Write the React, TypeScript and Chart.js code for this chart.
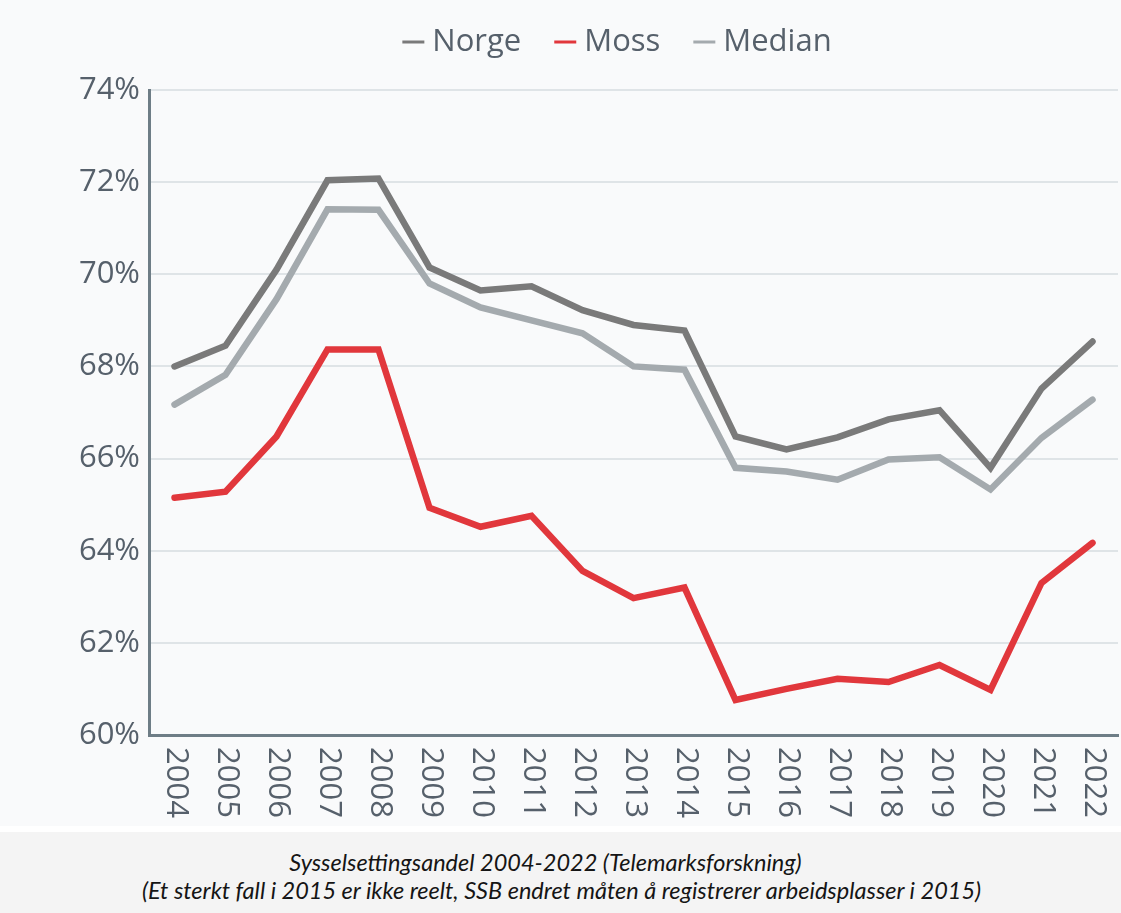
import React, { useEffect, useRef } from 'react';
import { Chart, registerables } from 'chart.js';

Chart.register(...registerables);

const years = ['2004', '2005', '2006', '2007', '2008', '2009', '2010', '2011', '2012', '2013', '2014', '2015', '2016', '2017', '2018', '2019', '2020', '2021', '2022'];
const norge = [68.0, 68.45, 70.1, 72.04, 72.08, 70.15, 69.65, 69.74, 69.22, 68.9, 68.78, 66.48, 66.2, 66.46, 66.85, 67.05, 65.8, 67.52, 68.54];
const moss = [65.15, 65.28, 66.48, 68.37, 68.37, 64.93, 64.52, 64.76, 63.56, 62.97, 63.2, 60.76, 61.0, 61.22, 61.15, 61.52, 60.98, 63.3, 64.17];
const median = [67.17, 67.82, 69.46, 71.41, 71.4, 69.8, 69.28, 69.0, 68.72, 68.0, 67.93, 65.8, 65.72, 65.54, 65.98, 66.03, 65.33, 66.45, 67.28];
const yMin = 60;
const yMax = 74;
const yStep = 2;
const captionLines = [
  'Sysselsettingsandel 2004-2022 (Telemarksforskning)',
  '(Et sterkt fall i 2015 er ikke reelt, SSB endret måten å registrerer arbeidsplasser i 2015)',
];

const TEXT = '#56606b';
const FONT = '"Open Sans", "DejaVu Sans", sans-serif';

const rotatedXLabels = {
  id: 'rotatedXLabels',
  afterDraw(chart: any) {
    const xs = chart.scales.x;
    const ctx = chart.ctx;
    ctx.save();
    ctx.fillStyle = TEXT;
    ctx.font = '31px ' + FONT;
    ctx.textAlign = 'left';
    ctx.textBaseline = 'middle';
    xs.ticks.forEach((t: any, i: number) => {
      const px = xs.getPixelForTick(i);
      ctx.save();
      ctx.translate(px + 1, xs.top + 12);
      ctx.rotate(Math.PI / 2);
      ctx.fillText(String(xs.getLabelForValue(t.value)), 0, 0);
      ctx.restore();
    });
    ctx.restore();
  },
};

const lineLegend = {
  id: 'lineLegend',
  afterDraw(chart: any) {
    const ctx = chart.ctx;
    const ds = chart.data.datasets;
    const markW = 22;
    const gap = 8;
    const itemGap = 33;
    ctx.save();
    ctx.font = '31px ' + FONT;
    ctx.textBaseline = 'middle';
    ctx.textAlign = 'left';
    const widths = ds.map((d: any) => ctx.measureText(d.label).width);
    const total = widths.reduce((a: number, w: number) => a + markW + gap + w, 0) + itemGap * (ds.length - 1);
    let x = 617 - total / 2;
    const y = 42;
    ds.forEach((d: any, i: number) => {
      ctx.strokeStyle = d.borderColor;
      ctx.lineWidth = 3;
      ctx.lineCap = 'butt';
      ctx.beginPath();
      ctx.moveTo(x, y);
      ctx.lineTo(x + markW, y);
      ctx.stroke();
      ctx.fillStyle = TEXT;
      ctx.fillText(d.label, x + markW + gap, y);
      x += markW + gap + widths[i] + itemGap;
    });
    ctx.restore();
  },
};

export default function App() {
  const ref = useRef<HTMLCanvasElement | null>(null);
  useEffect(() => {
    if (!ref.current) return;
    const mk = (label: string, data: number[], color: string) => ({
      label,
      data,
      borderColor: color,
      backgroundColor: color,
      borderWidth: 6.5,
      pointRadius: 0,
      tension: 0,
      borderCapStyle: 'round' as const,
      borderJoinStyle: 'miter' as const,
    });
    const chart = new Chart(ref.current, {
      type: 'line',
      data: {
        labels: years,
        datasets: [
          mk('Norge', norge, '#7a7a7a'),
          mk('Moss', moss, '#e1373c'),
          mk('Median', median, '#a4aaae'),
        ],
      },
      options: {
        responsive: false,
        animation: false,
        layout: { padding: { left: 78, right: 3, top: 90, bottom: 0 } },
        plugins: {
          tooltip: { enabled: false },
          legend: { display: false },
        },
        scales: {
          x: {
            offset: true,
            grid: { color: 'rgba(0,0,0,0)', drawTicks: false },
            border: { display: true, color: '#6e7d86', width: 3 },
            ticks: { color: 'rgba(0,0,0,0)', font: { size: 1, family: FONT }, maxRotation: 0, padding: 0, autoSkip: false },
            afterFit(scale: any) { scale.height = 91; },
          },
          y: {
            min: yMin,
            max: yMax,
            grid: { color: '#dfe4e7', lineWidth: 2, drawTicks: false },
            border: { display: true, color: '#6e7d86', width: 3 },
            ticks: {
              stepSize: yStep,
              color: TEXT,
              padding: 9,
              font: { size: 31, family: FONT },
              callback: (v: any) => v + '%',
            },
            afterFit(scale: any) { scale.width = 71; },
          },
        },
      },
      plugins: [rotatedXLabels, lineLegend],
    });
    return () => chart.destroy();
  }, []);

  return (
    <div style={{ position: 'absolute', left: 0, top: 0, width: 1121, height: 913, background: '#ffffff' }}>
      <div style={{ position: 'absolute', left: 0, top: 0, width: 1121, height: 826, background: '#f9fafb' }}>
        <canvas ref={ref} width={1121} height={826} style={{ display: 'block' }} />
      </div>
      <div
        style={{
          position: 'absolute',
          left: 0,
          top: 832,
          width: 1121,
          height: 81,
          background: '#f4f4f4',
          fontFamily: 'Lato, "Liberation Sans", sans-serif',
          fontStyle: 'italic',
          fontSize: 23.5,
          color: '#151515',
          textAlign: 'center',
          lineHeight: '28px',
          paddingTop: 16,
          boxSizing: 'border-box',
        }}
      >
        {captionLines.map((l, i) => (
          <div key={i} style={{ position: 'relative', left: i === 0 ? -15 : 1 }}>{l}</div>
        ))}
      </div>
    </div>
  );
}
